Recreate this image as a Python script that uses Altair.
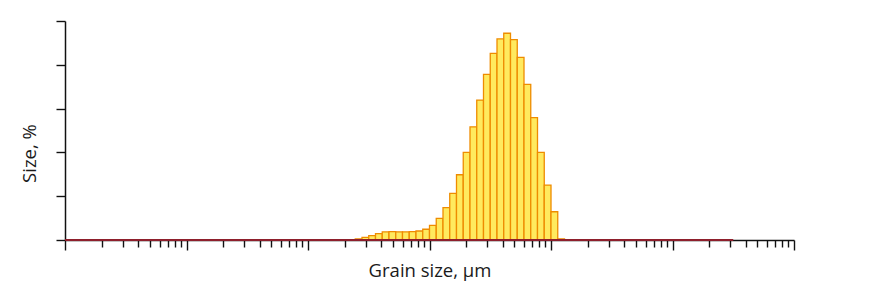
import altair as alt
import pandas as pd

# Grain size classes: 18 log classes per decade, first class starts 11 classes below 10 µm
classes_per_decade = 18
first_class_offset = -11
size_pct = [0.05, 0.12, 0.20, 0.29, 0.37, 0.38, 0.37, 0.37, 0.38, 0.41,
            0.49, 0.67, 0.99, 1.48, 2.13, 2.98, 4.00, 5.17, 6.39, 7.56,
            8.52, 9.18, 9.44, 9.15, 8.34, 7.11, 5.59, 4.00, 2.51, 1.29, 0.05]

lo = [10 * 10 ** ((first_class_offset + i) / classes_per_decade) for i in range(len(size_pct))]
hi = [10 * 10 ** ((first_class_offset + i + 1) / classes_per_decade) for i in range(len(size_pct))]

bars = pd.DataFrame({"lo": lo, "hi": hi, "pct": size_pct})

# measured range (zero line)
range_start = [0.01]
range_end = [3162]
line_df = pd.DataFrame({"a": range_start, "b": range_end, "y": [0]})

x_ticks = [m * 10 ** k for k in range(-2, 4) for m in range(1, 10)] + [10000]
y_ticks = [0, 2, 4, 6, 8, 10]

xscale = alt.Scale(type="log", domain=[0.01, 10000], nice=False)
yscale = alt.Scale(domain=[0, 10], nice=False)

major_test = "abs(log(datum.value)/LN10 - round(log(datum.value)/LN10)) < 0.001"

xaxis = alt.Axis(
    values=x_ticks, labels=False, grid=False,
    tickSize={"condition": {"test": major_test, "value": 10}, "value": 7},
    tickColor="#111", tickWidth=1.4, domainColor="#111", domainWidth=1.5,
    title="Grain size, µm", titleFont="Open Sans", titleFontSize=18.5,
    titleFontWeight="normal", titleColor="#1a1a1a",
    titleX=364.5, titleY=36, titleBaseline="alphabetic", titleAlign="center",
)
yaxis = alt.Axis(
    values=y_ticks, labels=False, grid=False, tickSize=9,
    tickColor="#111", tickWidth=1.4, domainColor="#111", domainWidth=1.5,
    title="Size, %", titleFont="Open Sans", titleFontSize=18.5,
    titleFontWeight="normal", titleColor="#1a1a1a",
    titleX=-30, titleY=132, titleAngle=270, titleAlign="center", titleBaseline="alphabetic",
)

bar_layer = alt.Chart(bars).mark_rect(
    fill="#FFEA5E", stroke="#EE8C00", strokeWidth=1.3
).encode(
    x=alt.X("lo:Q", scale=xscale, axis=xaxis),
    x2="hi:Q",
    y=alt.Y("pct:Q", scale=yscale, axis=yaxis),
    y2=alt.datum(0),
)

line_layer = alt.Chart(line_df).mark_rule(color="#8E1F2C", strokeWidth=2).encode(
    x=alt.X("a:Q", scale=xscale),
    x2="b:Q",
    y=alt.Y("y:Q", scale=yscale),
)

chart = alt.layer(bar_layer, line_layer).properties(
    width=729, height=219,
    autosize=alt.AutoSizeParams(type="none"),
    padding={"left": 65, "top": 21, "right": 91, "bottom": 48},
    background="white",
).configure_view(stroke=None)

chart.save("out.html", embed_options={"renderer": "svg", "actions": False})
